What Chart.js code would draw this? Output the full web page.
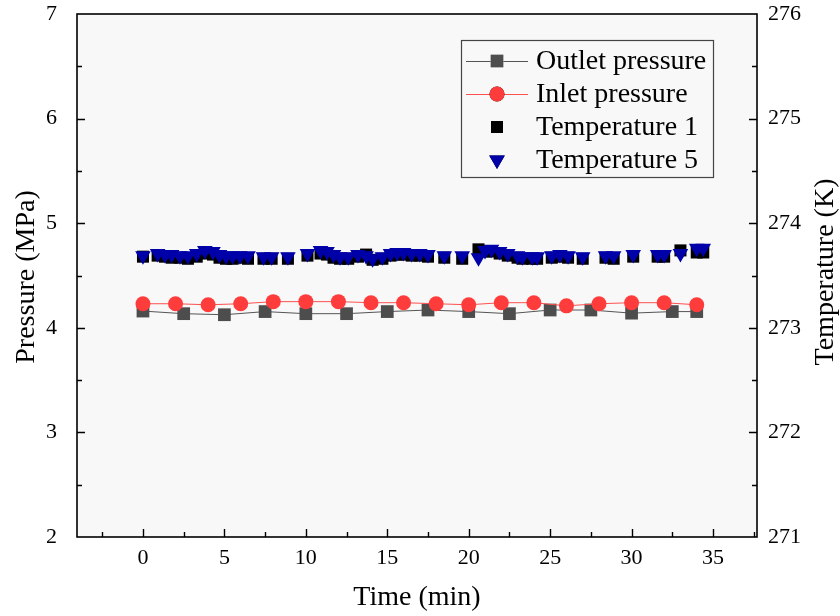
<!DOCTYPE html>
<html>
<head>
<meta charset="utf-8">
<script src="https://cdn.jsdelivr.net/npm/chart.js@4.4.0/dist/chart.umd.min.js"></script>
<style>
  html, body { margin: 0; padding: 0; background: #fff; }
  #myChart { display: block; }
</style>
</head>
<body>
<canvas id="myChart" width="840" height="616"></canvas>
<script>
// ---------------- data ----------------
const outletTime = [0, 2.5, 5, 7.5, 10, 12.5, 15, 17.5, 20, 22.5, 25, 27.5, 30, 32.5, 34];
const outletPressure = [4.16, 4.135, 4.125, 4.155, 4.135, 4.135, 4.155, 4.17, 4.155, 4.135, 4.17, 4.17, 4.14, 4.155, 4.155];

const inletTime = [0, 2, 4, 6, 8, 10, 12, 14, 16, 18, 20, 22, 24, 26, 28, 30, 32, 34];
const inletPressure = [4.23, 4.23, 4.22, 4.23, 4.25, 4.25, 4.25, 4.24, 4.24, 4.23, 4.22, 4.24, 4.24, 4.21, 4.23, 4.24, 4.24, 4.22];

const tempTime = [0, 0.9, 1.35, 1.76, 2.27, 2.76, 3.3, 3.8, 4.3, 4.7, 5.1, 5.5, 5.95, 6.45, 7.4, 7.9, 8.9,
  10.1, 10.9, 11.3, 11.7, 12.1, 12.6, 13.2, 13.7, 14.1, 14.7, 15.2, 15.6, 16, 16.5, 17, 17.5, 18.5, 19.6,
  20.6, 21, 21.4, 21.9, 22.4, 23, 23.3, 23.9, 24.2, 25.1, 25.6, 26.1, 27, 28.4, 28.9, 30.1, 31.6, 32, 33, 34, 34.4];
const temperature1 = [273.68, 273.69, 273.68, 273.67, 273.67, 273.66, 273.68, 273.71, 273.70, 273.67, 273.66, 273.66, 273.67, 273.66, 273.66, 273.66, 273.66,
  273.69, 273.71, 273.70, 273.67, 273.66, 273.66, 273.68, 273.70, 273.65, 273.66, 273.69, 273.70, 273.70, 273.69, 273.69, 273.68, 273.67, 273.66,
  273.75, 273.73, 273.73, 273.71, 273.69, 273.67, 273.66, 273.66, 273.66, 273.67, 273.68, 273.67, 273.66, 273.67, 273.66, 273.68, 273.68, 273.68, 273.74, 273.72, 273.72];
const temperature5 = [273.69, 273.71, 273.70, 273.70, 273.69, 273.69, 273.71, 273.74, 273.73, 273.70, 273.69, 273.69, 273.69, 273.69, 273.68, 273.68, 273.68,
  273.71, 273.74, 273.73, 273.70, 273.68, 273.68, 273.70, 273.69, 273.66, 273.68, 273.71, 273.72, 273.72, 273.71, 273.71, 273.70, 273.69, 273.69,
  273.67, 273.74, 273.75, 273.73, 273.71, 273.69, 273.68, 273.68, 273.68, 273.69, 273.70, 273.69, 273.68, 273.69, 273.69, 273.70, 273.70, 273.70, 273.71, 273.76, 273.76];

const xTicks = [0, 5, 10, 15, 20, 25, 30, 35];
const pressureTicks = [2, 3, 4, 5, 6, 7];
const tempTicks = [271, 272, 273, 274, 275, 276];

const seriesNames = ["Outlet pressure", "Inlet pressure", "Temperature 1", "Temperature 5"];

//------------------------------------------
const FONT = '"Liberation Serif", "Times New Roman", serif';
const pts = (xs, ys) => xs.map((x, i) => ({ x: x, y: ys[i] }));

const fixTicks = (values) => (scale) => {
  scale.ticks = values.map((v) => ({ value: v }));
};

// no extra room for half labels at the ends of the axes
const fitSize = (prop, size) => (s) => {
  s[prop] = size;
  s.paddingTop = 0;
  s.paddingBottom = 0;
  s.paddingLeft = 0;
  s.paddingRight = 0;
};

//------------------------------------------
const decorPlugin = {
  id: "decor",
  beforeDraw(chart) {
    const { ctx, chartArea: a } = chart;
    ctx.save();
    ctx.fillStyle = "#f8f8f8";
    ctx.fillRect(a.left, a.top, a.right - a.left, a.bottom - a.top);
    ctx.restore();
  },
  afterDraw(chart) {
    const { ctx, chartArea: a } = chart;
    const sx = chart.scales.x, sy = chart.scales.y, sy1 = chart.scales.y1;
    ctx.save();
    // frame
    ctx.strokeStyle = "#000";
    ctx.lineWidth = 1.6;
    ctx.strokeRect(a.left, a.top, a.right - a.left, a.bottom - a.top);

    // inward ticks
    ctx.lineWidth = 1.4;
    ctx.beginPath();
    for (let v = -2.5; v < sx.max; v += 2.5) {
      const px = Math.round(sx.getPixelForValue(v)) + 0.5;
      const len = Math.abs(v % 5) < 1e-6 ? 8 : 5;
      ctx.moveTo(px, a.bottom);
      ctx.lineTo(px, a.bottom - len);
    }
    for (let v = 2.5; v < 7; v += 0.5) {
      const py = Math.round(sy.getPixelForValue(v)) + 0.5;
      const len = Math.abs(v % 1) < 1e-6 ? 8 : 5;
      ctx.moveTo(a.left, py);
      ctx.lineTo(a.left + len, py);
    }
    for (let v = 271.5; v < 276; v += 0.5) {
      const py = Math.round(sy1.getPixelForValue(v)) + 0.5;
      const len = Math.abs(v % 1) < 1e-6 ? 8 : 5;
      ctx.moveTo(a.right, py);
      ctx.lineTo(a.right - len, py);
    }
    ctx.stroke();

    // axis titles
    ctx.fillStyle = "#000";
    ctx.font = "28px " + FONT;
    ctx.textAlign = "center";
    ctx.textBaseline = "middle";
    ctx.fillText("Time (min)", (a.left + a.right) / 2, 598);
    ctx.save();
    ctx.translate(27, 277);
    ctx.rotate(-Math.PI / 2);
    ctx.fillText("Pressure (MPa)", 0, 0);
    ctx.restore();
    ctx.save();
    ctx.translate(826, 272);
    ctx.rotate(-Math.PI / 2);
    ctx.fillText("Temperature (K)", 0, 0);
    ctx.restore();

    // legend
    const box = { x: 461, y: 40, w: 252, h: 137 };
    ctx.fillStyle = "#f8f8f8";
    ctx.fillRect(box.x, box.y, box.w, box.h);
    ctx.strokeStyle = "#444";
    ctx.lineWidth = 1.2;
    ctx.strokeRect(box.x + 0.5, box.y + 0.5, box.w, box.h);
    const rows = [61, 94, 127, 160];
    chart.data.datasets.forEach((ds, i) => {
      const y = rows[i];
      if (ds.showLine !== false) {
        ctx.strokeStyle = ds.borderColor;
        ctx.lineWidth = ds.borderWidth;
        ctx.beginPath();
        ctx.moveTo(466, y + 0.5);
        ctx.lineTo(528, y + 0.5);
        ctx.stroke();
      }
      Chart.helpers.drawPoint(ctx, {
        pointStyle: ds.pointStyle,
        rotation: ds.pointRotation || 0,
        radius: ds.pointRadius,
        borderWidth: 0,
      }, 497, y);
      ctx.fillStyle = ds.pointBackgroundColor;
      ctx.fill();
      ctx.fillStyle = "#000";
      ctx.font = "28px " + FONT;
      ctx.textAlign = "left";
      ctx.textBaseline = "middle";
      ctx.fillText(ds.label, 536, y + 1);
    });
    ctx.restore();
  },
};

//------------------------------------------
const tickFont = { family: FONT, size: 22 };

const myChart = new Chart(document.getElementById("myChart"), {
  type: "line",
  data: {
    datasets: [
      {
        label: seriesNames[0],
        data: pts(outletTime, outletPressure),
        yAxisID: "y",
        borderColor: "#555555",
        borderWidth: 1,
        pointStyle: "rect",
        pointRadius: 9,
        pointBackgroundColor: "#4d4d4d",
        pointBorderWidth: 0,
        order: 3,
      },
      {
        label: seriesNames[1],
        data: pts(inletTime, inletPressure),
        yAxisID: "y",
        borderColor: "#ff5050",
        borderWidth: 1,
        pointStyle: "circle",
        pointRadius: 7.5,
        pointBackgroundColor: "#ff3c3c",
        pointBorderWidth: 0,
        order: 2,
      },
      {
        label: seriesNames[2],
        data: pts(tempTime, temperature1),
        yAxisID: "y1",
        showLine: false,
        pointStyle: "rect",
        pointRadius: 8.5,
        pointBackgroundColor: "#000000",
        pointBorderWidth: 0,
        order: 1,
      },
      {
        label: seriesNames[3],
        data: pts(tempTime, temperature5),
        yAxisID: "y1",
        showLine: false,
        pointStyle: "triangle",
        pointRotation: 180,
        pointRadius: 9,
        pointBackgroundColor: "#0000a8",
        pointBorderWidth: 0,
        order: 0,
      },
    ],
  },
  options: {
    responsive: false,
    animation: false,
    devicePixelRatio: 1,
    layout: { padding: { top: 14, left: 0, right: 0, bottom: 0 } },
    plugins: { legend: { display: false }, tooltip: { enabled: false } },
    scales: {
      x: {
        type: "linear",
        min: -4.05,
        max: 37.7,
        afterBuildTicks: fixTicks(xTicks),
        afterFit: fitSize("height", 79),
        grid: { drawOnChartArea: false, drawTicks: false },
        border: { display: false },
        ticks: { font: tickFont, color: "#000", padding: 8, maxRotation: 0 },
      },
      y: {
        position: "left",
        min: 2,
        max: 7,
        afterBuildTicks: fixTicks(pressureTicks),
        afterFit: fitSize("width", 77),
        grid: { drawOnChartArea: false, drawTicks: false },
        border: { display: false },
        ticks: { font: tickFont, color: "#000", padding: 20 },
      },
      y1: {
        position: "right",
        min: 271,
        max: 276,
        afterBuildTicks: fixTicks(tempTicks),
        afterFit: fitSize("width", 83),
        grid: { drawOnChartArea: false, drawTicks: false },
        border: { display: false },
        ticks: { font: tickFont, color: "#000", padding: 11 },
      },
    },
  },
  plugins: [decorPlugin],
});
</script>
</body>
</html>
